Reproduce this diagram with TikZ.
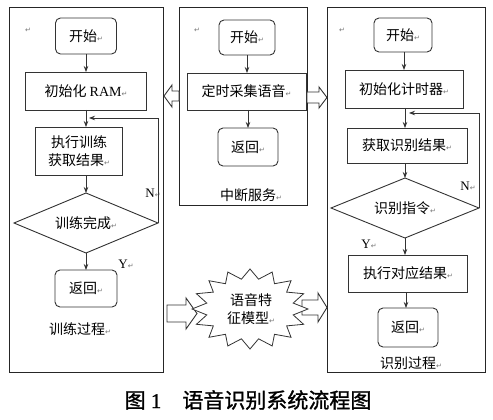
\documentclass[tikz,border=0pt]{standalone}
\usepackage{fontspec}
\setmainfont{Liberation Serif}
\newfontfamily\cjk{Noto Sans CJK SC}
\newfontfamily\cjkb{Noto Sans CJK SC}[FakeBold=1.2]
\newfontfamily\serb{Liberation Serif}[FakeBold=1.2]
\newfontfamily\symf{DejaVu Sans}
\usetikzlibrary{arrows.meta,shapes.geometric}
\newcommand\retm{{\symf\fontsize{7}{7}\selectfont\color{black!55}↵}}
\tikzset{
  every node/.style={inner sep=0pt, outer sep=0pt},
  fr/.style={draw=black!85, line width=0.9pt},
  txt/.style={font=\cjk\fontsize{14}{18}\selectfont, align=center, text=black},
  rbox/.style={txt, draw=black!80, line width=0.9pt, rounded corners=5pt},
  sbox/.style={txt, draw=black!80, line width=0.9pt},
  dia/.style={txt, diamond, aspect=2.4, draw=black!80, line width=0.9pt},
  arr/.style={draw=black!80, line width=0.8pt, -{Stealth[length=6pt,width=4.5pt]}},
  yn/.style={font=\fontsize{13}{13}\selectfont, text=black},
  barrow/.style={draw=black!80, line width=0.9pt, fill=white}
}
\begin{document}
\begin{tikzpicture}[x=1pt, y=-1pt]
\useasboundingbox (0,0) rectangle (493,420);
% outer frames
\node[fr, minimum width=154pt, minimum height=365pt] (lf) at (86,189.5) {};
\node[fr, minimum width=128pt, minimum height=198pt] (mf) at (243,106) {};
\node[fr, minimum width=158pt, minimum height=365pt] (rf) at (406,189.5) {};
% paragraph marks
\node (pm1) at (28,30) {\retm};
\node (pm2) at (197,30) {\retm};
\node (pm3) at (342,30) {\retm};

% ---------- left column: training ----------
\node[rbox, minimum width=61pt, minimum height=36pt] (ls) at (86,36) {开始\retm};
\node[sbox, minimum width=121pt, minimum height=38pt] (lram) at (86,91) {初始化 {\rmfamily RAM}\retm};
\node[sbox, minimum width=87pt, minimum height=48pt] (lexe) at (79,151) {执行训练\\获取结果\retm};
\node[dia, minimum width=144pt, minimum height=60pt] (ld) at (86,223) {训练完成\retm};
\node[rbox, minimum width=62pt, minimum height=37pt] (lr) at (86,288.5) {返回\retm};
\node[txt] (ll) at (80,329) {训练过程\retm};
\node[yn] (ln) at (153,193) {N\retm};
\node[yn] (ly) at (126,264) {Y\retm};
\coordinate (lloop) at (89,118);
\draw[arr] (ls) -- (lram);
\draw[arr] (lram.south) -- (lram.south |- lexe.north);
\draw[arr] (lexe.south -| ld.north) -- (ld.north);
\draw[arr] (ld) -- (lr);
\draw[arr] (ld.east) |- (lloop);

% ---------- middle column: interrupt ----------
\node[rbox, minimum width=56pt, minimum height=35pt] (ms) at (247,37.5) {开始\retm};
\node[sbox, minimum width=119pt, minimum height=37pt] (mc) at (246.5,91.5) {定时采集语音\retm};
\node[rbox, minimum width=60pt, minimum height=38pt] (mr) at (248,147) {返回\retm};
\node[txt] (ml) at (251,195) {中断服务\retm};
\draw[arr] (ms.south) -- (ms.south |- mc.north);
\draw[arr] (mr.north |- mc.south) -- (mr.north);

% ---------- right column: recognition ----------
\node[rbox, minimum width=58pt, minimum height=34pt] (rs) at (403,35) {开始\retm};
\node[sbox, minimum width=118pt, minimum height=38pt] (rini) at (404,89) {初始化计时器\retm};
\node[sbox, minimum width=120pt, minimum height=35pt] (rget) at (407,145.5) {获取识别结果\retm};
\node[dia, minimum width=148pt, minimum height=60pt] (rd) at (405,208) {识别指令\retm};
\node[sbox, minimum width=119pt, minimum height=37pt] (rexe) at (408,273.5) {执行对应结果\retm};
\node[rbox, minimum width=60pt, minimum height=39pt] (rr) at (408,327.5) {返回\retm};
\node[txt] (rl) at (411,363) {识别过程\retm};
\node[yn] (rn) at (468,186) {N\retm};
\node[yn] (ry) at (369,244) {Y\retm};
\coordinate (rloop) at (409,113);
\draw[arr] (rs.south -| 404,0) -- (rini.north -| 404,0);
\draw[arr] (rini.south -| 405,0) -- (rget.north -| 405,0);
\draw[arr] (rget.south -| rd.north) -- (rd.north);
\draw[arr] (rd.south) -- (rd.south |- rexe.north);
\draw[arr] (rexe.south -| 406,0) -- (rr.north -| 406,0);
\draw[arr] (rd.east) |- (rloop);

% ---------- block arrows ----------
\draw[barrow] (164,96) -- (172,85) -- (172,91) -- (179,91) -- (179,101) -- (172,101) -- (172,107) -- cycle;
\draw[barrow] (307,92) -- (319,92) -- (319,87) -- (327,97.5) -- (319,108) -- (319,103) -- (307,103) -- cycle;
\draw[barrow] (167,305) -- (186,305) -- (186,298) -- (197,313.5) -- (186,329) -- (186,322) -- (167,322) -- cycle;
\draw[barrow] (302,300) -- (318,300) -- (318,293) -- (327,307.5) -- (318,322) -- (318,315) -- (302,315) -- cycle;

% ---------- starburst ----------
\draw[barrow, line width=0.8pt] (308,309)
  \foreach \i in {1,...,31} { -- ({250+58*(1-0.24*mod(\i,2))*cos(\i*11.25)}, {309+40*(1-0.24*mod(\i,2))*sin(\i*11.25)}) } -- cycle;
\node[txt] (sb) at (251,309) {语音特\\征模型\retm};

% ---------- caption ----------
\node[font=\fontsize{21}{21}\selectfont, text=black] (cap) at (248,400) {{\cjkb 图} {\serb 1}\quad{\cjkb 语音识别系统流程图}};
\end{tikzpicture}
\end{document}
